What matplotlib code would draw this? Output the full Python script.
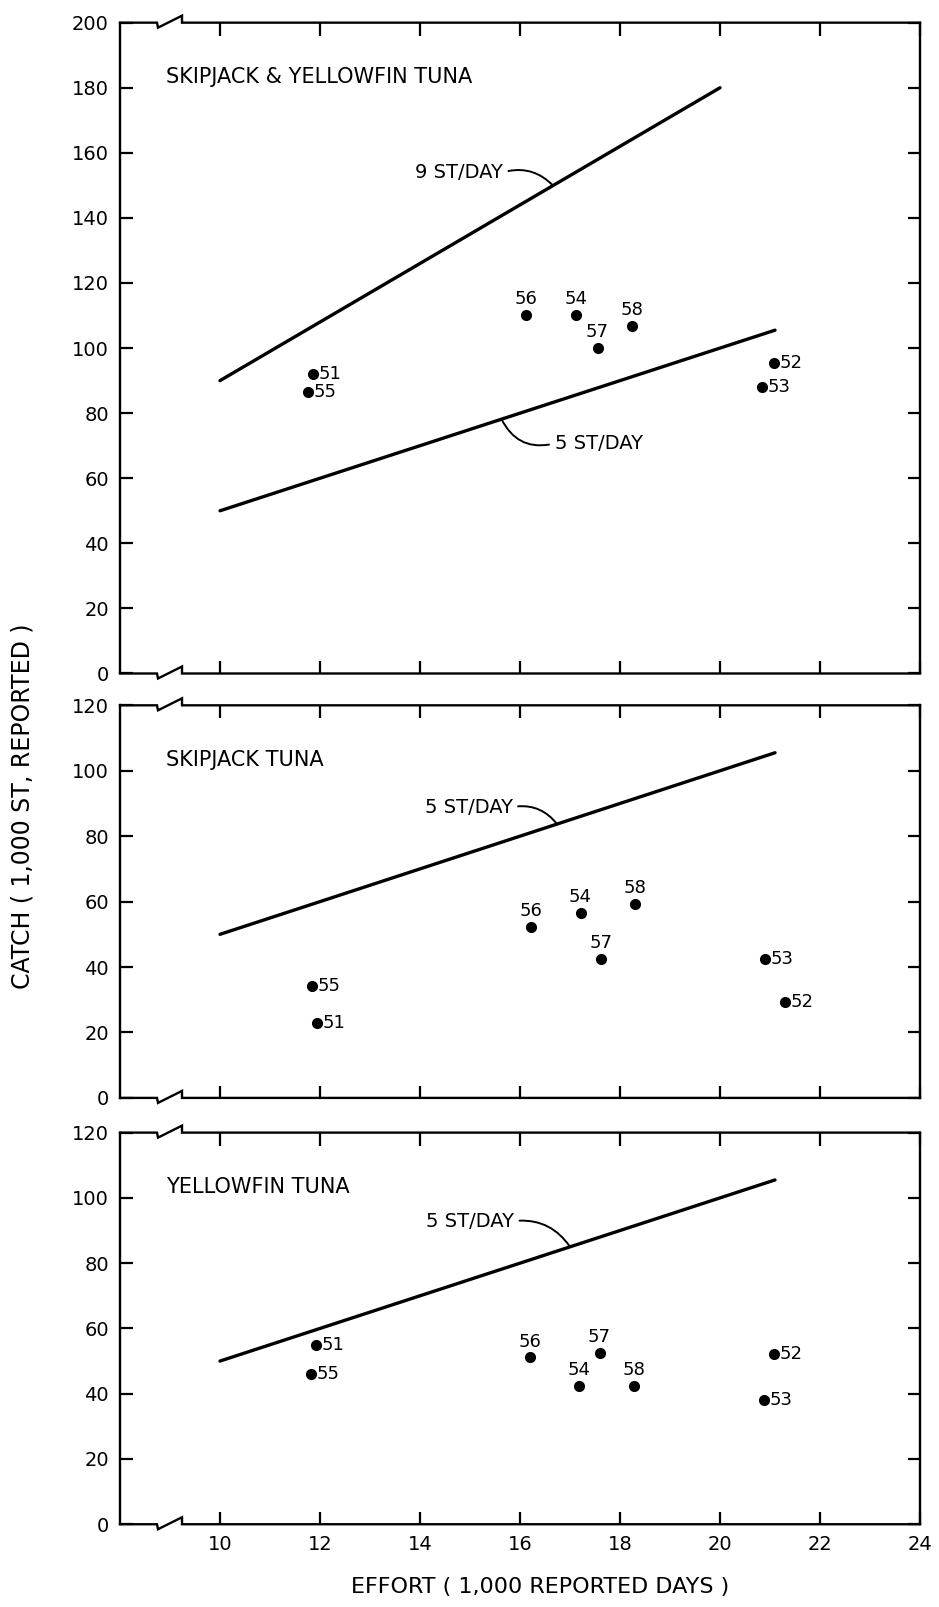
import matplotlib.pyplot as plt
import numpy as np

# season years (1951-1958), same order in every panel
years = ['51', '52', '53', '54', '55', '56', '57', '58']

# skipjack & yellowfin combined
effort_all = [11.85, 21.07, 20.83, 17.12, 11.75, 16.12, 17.55, 18.23]
catch_all = [92.0, 95.3, 88.1, 110.2, 86.6, 110.1, 100.1, 106.8]

# skipjack only
effort_skj = [11.93, 21.3, 20.9, 17.21, 11.83, 16.22, 17.62, 18.3]
catch_skj = [23.0, 29.2, 42.4, 56.4, 34.3, 52.2, 42.4, 59.3]

# yellowfin only
effort_yft = [11.91, 21.08, 20.88, 17.18, 11.81, 16.19, 17.59, 18.28]
catch_yft = [54.9, 52.3, 38.0, 42.3, 45.9, 51.1, 52.5, 42.4]

# constant catch-rate reference lines (short tons per day)
rate_start = 10
rate_end = {9: 20, 5: 21.1}

titles = ['SKIPJACK & YELLOWFIN TUNA', 'SKIPJACK TUNA', 'YELLOWFIN TUNA']
ymaxes = [200, 120, 120]
xticks = [10, 12, 14, 16, 18, 20, 22, 24]

W, H = 939, 1607
fig = plt.figure(figsize=(W / 100, H / 100), dpi=100)
plt.rcParams['font.family'] = ['DejaVu Sans']

positions = [[0.1278, 0.5809, 0.852, 0.405],
             [0.1278, 0.3168, 0.852, 0.2443],
             [0.1278, 0.0515, 0.852, 0.2437]]

# where the year labels sit: 'r' right of dot, 'a' above dot
label_side = [['r', 'r', 'r', 'a', 'r', 'a', 'a', 'a'],
              ['r', 'r', 'r', 'a', 'r', 'a', 'a', 'a'],
              ['r', 'r', 'r', 'a', 'r', 'a', 'a', 'a']]

# rate line labels: (rate, text x, text y, x where leader meets line, side, rad)
rate_labels = [[(9, 14.78, 154.0, 16.66, 'right', -0.3),
                (5, 17.57, 70.7, 15.63, 'left', -0.4)],
               [(5, 14.97, 88.9, 16.74, 'right', -0.3)],
               [(5, 15.0, 92.9, 17.0, 'right', -0.3)]]

panel_rates = [[9, 5], [5], [5]]
efforts = [effort_all, effort_skj, effort_yft]
catches = [catch_all, catch_skj, catch_yft]


def draw_break(ax, yax, h_px):
    """Draws the horizontal spine with the little axis-break zigzag."""
    d = 1.0 / h_px
    tr = ax.get_xaxis_transform()
    xs = [8, 8.74, 8.76, 9.24, 9.24, 24]
    ys = [yax, yax, yax - 5 * d, yax + 7 * d, yax, yax]
    ax.plot(xs, ys, transform=tr, color='black', lw=1.7,
            clip_on=False, solid_joinstyle='miter')


for k in range(3):
    ax = fig.add_axes(positions[k])
    h_px = positions[k][3] * H

    # rate lines
    for rate in panel_rates[k]:
        xr = np.array([rate_start, rate_end[rate]])
        ax.plot(xr, rate * xr, color='black', lw=2.4, solid_capstyle='round')

    # annual points
    ax.plot(efforts[k], catches[k], 'o', color='black', ms=7)
    for i, yr in enumerate(years):
        if label_side[k][i] == 'r':
            ax.annotate(yr, (efforts[k][i], catches[k][i]), xytext=(4, 0),
                        textcoords='offset points', ha='left', va='center',
                        fontsize=13)
        else:
            ax.annotate(yr, (efforts[k][i], catches[k][i]), xytext=(0, 5),
                        textcoords='offset points', ha='center', va='bottom',
                        fontsize=13)

    # labels of the rate lines with curved leaders
    for rate, tx, ty, lx, side, rad in rate_labels[k]:
        rel = (1, 0.5) if side == 'right' else (0, 0.5)
        ax.annotate(f'{rate} ST/DAY', xy=(lx, rate * lx), xytext=(tx, ty),
                    ha='center', va='center', fontsize=14,
                    arrowprops=dict(arrowstyle='-', lw=1.4, color='black',
                                    connectionstyle=f'arc3,rad={rad}',
                                    relpos=rel, shrinkA=2, shrinkB=0))

    ax.text(8.92, ymaxes[k] * (0.9165 if k == 0 else 0.861), titles[k],
            ha='left', va='center', fontsize=15)

    ax.set_xlim(8, 24)
    ax.set_ylim(0, ymaxes[k])
    ax.set_xticks(xticks)
    ax.set_yticks(range(0, ymaxes[k] + 1, 20))
    ax.tick_params(direction='in', length=9, width=1.6, top=True, right=True,
                   labelsize=14, pad=8)
    if k < 2:
        ax.tick_params(labelbottom=False)

    ax.spines['top'].set_visible(False)
    ax.spines['bottom'].set_visible(False)
    for side in ['left', 'right']:
        ax.spines[side].set_linewidth(1.7)
    draw_break(ax, 0, h_px)
    draw_break(ax, 1, h_px)

fig.text(0.575, 0.0124, 'EFFORT ( 1,000 REPORTED DAYS )', ha='center',
         va='center', fontsize=16)
fig.text(0.024, 0.498, 'CATCH ( 1,000 ST, REPORTED )', ha='center',
         va='center', rotation=90, fontsize=17)

plt.savefig('out.png', dpi=100)
